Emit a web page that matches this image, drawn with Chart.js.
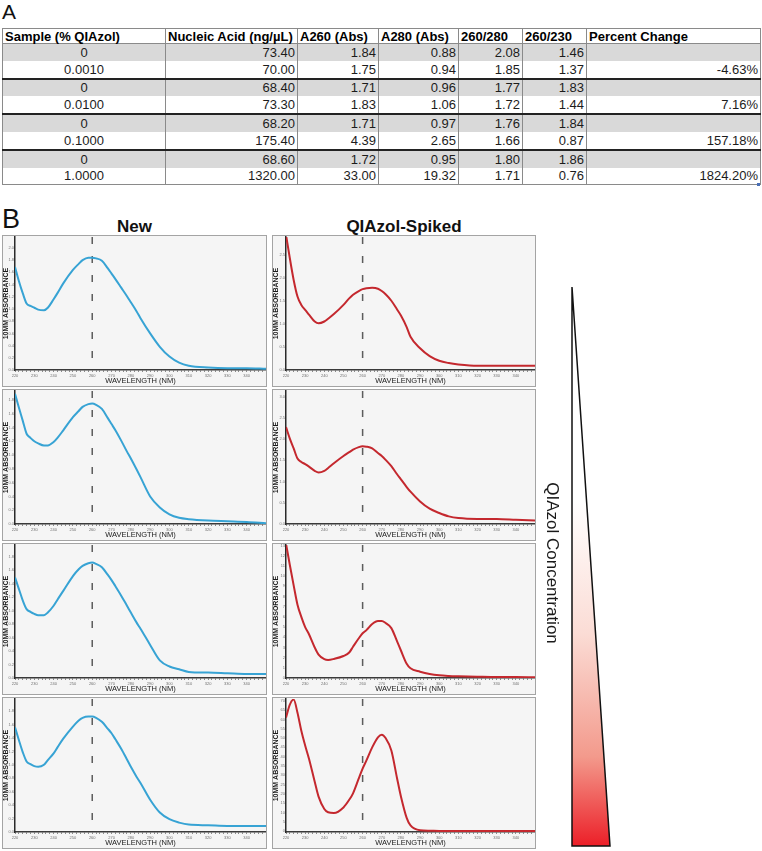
<!DOCTYPE html>
<html>
<head>
<meta charset="utf-8">
<script src="https://cdn.jsdelivr.net/npm/chart.js@4/dist/chart.umd.min.js"></script>
<style>
  body {margin: 0; width: 762px; height: 851px; position: relative; background: #fff; overflow: hidden;
    font-family: "Liberation Sans", Arial, sans-serif; color: #111;}
  .lbl {position: absolute; line-height: 1; white-space: nowrap;}
  #tbl {position: absolute; left: 2px; top: 28px; border-collapse: collapse; table-layout: fixed;
    font-size: 13px; color: #1c1c1c;}
  #tbl th {border: 1px solid #8a8a8a; height: 14px; padding: 0 2px; text-align: left; font-weight: bold; color: #000; line-height: 1;}
  #tbl td {border-left: 1px solid #8a8a8a; border-right: 1px solid #8a8a8a; height: 16.8px; padding: 0 2px;
    text-align: right; line-height: 1; white-space: nowrap;}
  #tbl td.c {text-align: center;}
  #tbl tr.g td {background: #d9d9d9;}
  #tbl tr.sep td {border-top: 2px solid #222;}
  #tbl tr.last td {border-bottom: 1px solid #8a8a8a;}
  .panel {position: absolute; height: 152px; box-sizing: border-box; border: 1px solid #a4a4a4; background: #f5f5f5;}
  .panel canvas {display: block;}
  .pl {left: 2px; width: 265px;}
  .pr {left: 272px; width: 264px;}
</style>
</head>
<body>
<div class="lbl" style="left:2px;top:1px;font-size:21px;">A</div>
<table id="tbl"></table>
<div style="position:absolute;left:757px;top:183px;width:3px;height:3px;background:#4a6fb5"></div>

<div class="lbl" style="left:2px;top:206px;font-size:27px;">B</div>
<div class="lbl" style="left:2px;top:218px;width:265px;text-align:center;font-size:17px;font-weight:bold;">New</div>
<div class="lbl" style="left:272px;top:218px;width:264px;text-align:center;font-size:17px;font-weight:bold;">QIAzol-Spiked</div>

<div class="panel pl" style="top:235px"><canvas id="L1" width="263" height="150"></canvas></div>
<div class="panel pl" style="top:389px"><canvas id="L2" width="263" height="150"></canvas></div>
<div class="panel pl" style="top:543px"><canvas id="L3" width="263" height="150"></canvas></div>
<div class="panel pl" style="top:697px"><canvas id="L4" width="263" height="150"></canvas></div>
<div class="panel pr" style="top:235px"><canvas id="R1" width="262" height="150"></canvas></div>
<div class="panel pr" style="top:389px"><canvas id="R2" width="262" height="150"></canvas></div>
<div class="panel pr" style="top:543px"><canvas id="R3" width="262" height="150"></canvas></div>
<div class="panel pr" style="top:697px"><canvas id="R4" width="262" height="150"></canvas></div>

<svg style="position:absolute;left:0;top:0" width="762" height="851">
  <defs>
    <linearGradient id="redGrad" x1="0" y1="0" x2="0" y2="1">
      <stop offset="0" stop-color="#ffffff"/>
      <stop offset="0.38" stop-color="#ffffff"/>
      <stop offset="0.62" stop-color="#fbdcd5"/>
      <stop offset="0.84" stop-color="#f39a8c"/>
      <stop offset="1" stop-color="#ec1f28"/>
    </linearGradient>
  </defs>
  <polygon points="572,287 572,846 610,846" fill="url(#redGrad)" stroke="#111" stroke-width="1.5" stroke-linejoin="miter"/>
</svg>
<div class="lbl" style="left:552px;top:563px;font-size:17px;transform:translate(-50%,-50%) rotate(90deg);color:#1a1a1a;">QIAzol Concentration</div>

<script>
// ---- table (panel A) ----
const tableHeaders = ['Sample (% QIAzol)', 'Nucleic Acid (ng/µL)', 'A260 (Abs)', 'A280 (Abs)', '260/280', '260/230', 'Percent Change'];
const columnWidths = [163, 132, 81, 80, 64, 64, 174];
const samplePct = [0, 0.001, 0, 0.01, 0, 0.1, 0, 1];
const nucleicAcid = [73.4, 70.0, 68.4, 73.3, 68.2, 175.4, 68.6, 1320.0];
const a260 = [1.84, 1.75, 1.71, 1.83, 1.71, 4.39, 1.72, 33.0];
const a280 = [0.88, 0.94, 0.96, 1.06, 0.97, 2.65, 0.95, 19.32];
const ratio260280 = [2.08, 1.85, 1.77, 1.72, 1.76, 1.66, 1.80, 1.71];
const ratio260230 = [1.46, 1.37, 1.83, 1.44, 1.84, 0.87, 1.86, 0.76];
const percentChange = [null, -4.63, null, 7.16, null, 157.18, null, 1824.20];

// ---- spectra (panel B), absorbance vs wavelength ----
const wavelengths = [220, 222, 224, 226, 228, 230, 232, 235, 237, 240, 242, 245, 250, 253, 255, 258, 260, 262,
  265, 268, 270, 272, 275, 278, 280, 283, 285, 290, 295, 300, 305, 310, 320, 330, 340, 350];
const newRow1 = [1.69, 1.46, 1.26, 1.09, 1.05, 1.02, 0.99, 0.98, 1.02, 1.16, 1.26, 1.42, 1.64, 1.74, 1.80, 1.84, 1.84, 1.83,
  1.79, 1.67, 1.58, 1.49, 1.35, 1.21, 1.11, 0.96, 0.85, 0.60, 0.38, 0.22, 0.12, 0.07, 0.04, 0.03, 0.03, 0.02];
const newRow2 = [1.89, 1.69, 1.50, 1.31, 1.25, 1.20, 1.17, 1.14, 1.14, 1.19, 1.25, 1.36, 1.55, 1.64, 1.70, 1.74, 1.75, 1.73,
  1.67, 1.54, 1.45, 1.36, 1.21, 1.05, 0.95, 0.79, 0.68, 0.40, 0.24, 0.14, 0.09, 0.07, 0.05, 0.04, 0.03, 0.01];
const newRow3 = [1.49, 1.32, 1.15, 1.02, 0.98, 0.95, 0.93, 0.93, 0.97, 1.07, 1.16, 1.29, 1.51, 1.61, 1.66, 1.70, 1.71, 1.69,
  1.64, 1.53, 1.45, 1.36, 1.22, 1.07, 0.97, 0.82, 0.73, 0.49, 0.26, 0.17, 0.13, 0.09, 0.08, 0.07, 0.06, 0.06];
const newRow4 = [1.56, 1.37, 1.19, 1.05, 1.01, 0.98, 0.97, 1.00, 1.07, 1.17, 1.26, 1.39, 1.57, 1.66, 1.70, 1.72, 1.72, 1.70,
  1.64, 1.54, 1.47, 1.38, 1.24, 1.08, 0.97, 0.82, 0.73, 0.48, 0.29, 0.19, 0.14, 0.11, 0.10, 0.09, 0.09, 0.09];
const spikedRow1 = [2.93, 2.42, 1.95, 1.59, 1.41, 1.30, 1.20, 1.05, 1.01, 1.05, 1.11, 1.21, 1.41, 1.55, 1.63, 1.71, 1.75, 1.77,
  1.78, 1.76, 1.71, 1.64, 1.50, 1.31, 1.18, 0.93, 0.72, 0.47, 0.30, 0.20, 0.15, 0.12, 0.09, 0.09, 0.09, 0.09];
const spikedRow2 = [2.28, 2.01, 1.78, 1.54, 1.46, 1.41, 1.35, 1.25, 1.21, 1.25, 1.32, 1.43, 1.60, 1.69, 1.75, 1.81, 1.83, 1.82,
  1.78, 1.67, 1.60, 1.51, 1.36, 1.17, 1.05, 0.87, 0.76, 0.53, 0.36, 0.26, 0.18, 0.14, 0.12, 0.12, 0.10, 0.08];
const spikedRow3 = [13.2, 11.1, 9.1, 7.2, 6.0, 5.0, 4.3, 3.0, 2.3, 1.85, 1.77, 1.87, 2.16, 2.5, 3.07, 3.9, 4.39, 4.7,
  5.3, 5.6, 5.6, 5.4, 4.9, 3.6, 2.7, 1.4, 0.95, 0.62, 0.39, 0.26, 0.2, 0.17, 0.13, 0.1, 0.1, 0.07];
const spikedRow4 = [61, 68, 70.7, 63.6, 53.9, 46, 38.9, 26.5, 18.5, 11.9, 10.1, 9.7, 12.7, 16.8, 20.3, 28.3, 33.6, 38,
  45, 50.4, 51.8, 50, 43.3, 28.3, 18.6, 7.1, 3.0, 0.4, 0.2, 0.1, 0.1, 0.1, 0, 0, 0, 0];
const markerWavelength = 260;

const BLUE = '#37a3d4';
const RED = '#c4282e';

// build table
const tbl = document.getElementById('tbl');
const colgroup = document.createElement('colgroup');
columnWidths.forEach((w) => {
  const c = document.createElement('col');
  c.style.width = w + 'px';
  colgroup.appendChild(c);
});
tbl.appendChild(colgroup);
const head = document.createElement('tr');
tableHeaders.forEach((h) => {
  const th = document.createElement('th');
  th.textContent = h;
  head.appendChild(th);
});
tbl.appendChild(head);
samplePct.forEach((s, i) => {
  const tr = document.createElement('tr');
  if (i % 2 == 0) tr.className = 'g' + (i > 0 ? ' sep' : '');
  if (i == samplePct.length - 1) tr.className = 'last';
  const cells = [
    s == 0 ? '0' : s.toFixed(4),
    nucleicAcid[i].toFixed(2),
    a260[i].toFixed(2),
    a280[i].toFixed(2),
    ratio260280[i].toFixed(2),
    ratio260230[i].toFixed(2),
    percentChange[i] == null ? '' : percentChange[i].toFixed(2) + '%',
  ];
  cells.forEach((txt, j) => {
    const td = document.createElement('td');
    td.textContent = txt;
    if (j == 0) td.className = 'c';
    tr.appendChild(td);
  });
  tbl.appendChild(tr);
});

// charts
Chart.defaults.font.family = "'Liberation Sans', Arial, sans-serif";

const panels = [
  {id: 'L1', series: newRow1, color: BLUE, yMin: 0, yMax: 2.18, step: 0.2, dec: 1, axisW: 12},
  {id: 'L2', series: newRow2, color: BLUE, yMin: 0, yMax: 1.93, step: 0.2, dec: 1, axisW: 12},
  {id: 'L3', series: newRow3, color: BLUE, yMin: 0, yMax: 1.97, step: 0.2, dec: 1, axisW: 12},
  {id: 'L4', series: newRow4, color: BLUE, yMin: 0, yMax: 1.98, step: 0.2, dec: 1, axisW: 12},
  {id: 'R1', series: spikedRow1, color: RED, yMin: 0, yMax: 2.88, step: 0.5, dec: 1, axisW: 13},
  {id: 'R2', series: spikedRow2, color: RED, yMin: 0, yMax: 3.13, step: 0.5, dec: 1, axisW: 13},
  {id: 'R3', series: spikedRow3, color: RED, yMin: 0, yMax: 13.06, step: 1, dec: 0, axisW: 13},
  {id: 'R4', series: spikedRow4, color: RED, yMin: -0.5, yMax: 71, step: 5, dec: 0, axisW: 13},
];

panels.forEach((p) => {
  new Chart(document.getElementById(p.id), {
    type: 'line',
    data: {
      datasets: [
        {
          data: wavelengths.map((w, i) => ({x: w, y: p.series[i]})),
          borderColor: p.color,
          borderWidth: 2,
          pointRadius: 0,
          cubicInterpolationMode: 'monotone',
        },
        {
          // 260 nm marker
          data: [{x: markerWavelength, y: p.yMax}, {x: markerWavelength, y: p.yMin}],
          borderColor: '#5c5c5c',
          borderWidth: 1.5,
          borderDash: [7, 12],
          pointRadius: 0,
        },
      ],
    },
    options: {
      responsive: false,
      animation: false,
      events: [],
      layout: {padding: {top: 1, left: 0, right: 0, bottom: 0}},
      plugins: {legend: {display: false}, tooltip: {enabled: false}},
      scales: {
        x: {
          type: 'linear',
          min: 220,
          max: 350,
          afterFit: (s) => {
            s.height = 16;
            s.paddingLeft = 0;
            s.paddingRight = 0;
          },
          ticks: {
            stepSize: 2,
            autoSkip: false,
            maxRotation: 0,
            padding: 1,
            color: '#707070',
            font: {size: 4},
            callback: (v) => (v % 10 == 0 && v < 350 ? String(v) : ''),
          },
          grid: {drawOnChartArea: false, drawTicks: true, tickLength: 2, color: '#8a8a8a'},
          border: {color: '#3a3a3a', width: 1.5},
          title: {
            display: true,
            text: 'WAVELENGTH (NM)',
            color: '#1a1a1a',
            font: {size: 7.5, lineHeight: 1},
            padding: {top: 0, bottom: 1.5},
          },
        },
        y: {
          min: p.yMin,
          max: p.yMax,
          afterFit: (s) => {
            s.width = p.axisW;
            s.paddingTop = 0;
            s.paddingBottom = 0;
          },
          ticks: {
            stepSize: p.step,
            includeBounds: false,
            padding: 1,
            color: '#777',
            font: {size: 4},
            callback: (v) => (v < 0 ? '' : v.toFixed(p.dec)),
          },
          grid: {drawOnChartArea: false, drawTicks: false},
          border: {color: '#2a2a2a', width: 1.5},
          title: {
            display: true,
            text: '10MM ABSORBANCE',
            color: '#1a1a1a',
            font: {size: 7, weight: 'bold', lineHeight: 1},
            padding: {top: 0, bottom: 0},
          },
        },
      },
    },
  });
});
</script>
</body>
</html>
